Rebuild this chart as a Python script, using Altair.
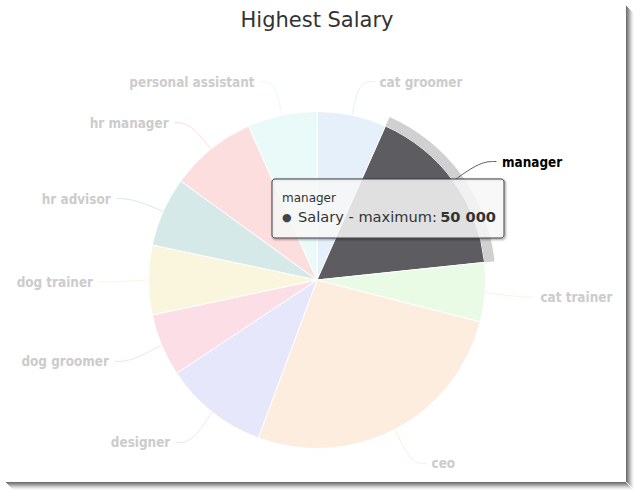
import altair as alt
import pandas as pd

# ---- data ----
jobs = ["cat groomer", "manager", "cat trainer", "ceo", "designer",
        "dog groomer", "dog trainer", "hr advisor", "hr manager", "personal assistant"]
salaries = [20000, 50000, 17000, 80000, 30000, 18000, 20000, 20000, 25000, 20000]
base_colors = ["#7cb5ec", "#434348", "#90ed7d", "#f7a35c", "#8085e9",
               "#f15c80", "#e4d354", "#2b908f", "#f45b5b", "#91e8e1"]
active = "manager"
title_text = "Highest Salary"
series_name = "Salary - maximum"

df = pd.DataFrame({"job": jobs, "salary": salaries, "idx": list(range(len(jobs)))})

# ---- layout constants ----
W, H = 634, 480
TOP = 40
CX, CY = W / 2, H / 2
R = 168.5
LABEL_FONT = "DejaVu Sans Condensed, Liberation Sans Narrow, DejaVu Sans"
TIP_FONT = "DejaVu Sans"

display_colors = ["#5c5c61" if j == active else c for j, c in zip(jobs, base_colors)]
color_enc = alt.Color("job:N", scale=alt.Scale(domain=jobs, range=display_colors), legend=None)
is_active = f"datum.job == '{active}'"

base = (
    alt.Chart(df)
    .transform_window(cum="sum(salary)", sort=[alt.SortField("idx")], frame=[None, 0])
    .transform_joinaggregate(total="sum(salary)")
    .transform_calculate(
        t1="2*PI*(datum.cum - datum.salary)/datum.total",
        t2="2*PI*datum.cum/datum.total",
    )
    .transform_calculate(tm="(datum.t1 + datum.t2)/2")
)

pie = base.mark_arc(radius=R, stroke="white", strokeWidth=1).encode(
    theta=alt.Theta("t1:Q", scale=None),
    theta2="t2:Q",
    color=color_enc,
    fillOpacity=alt.condition(is_active, alt.value(1.0), alt.value(0.2)),
)

halo = base.transform_filter(is_active).mark_arc(
    radius=R + 10, radius2=R, color="#434348", opacity=0.25
).encode(theta=alt.Theta("t1:Q", scale=None), theta2="t2:Q")

connectors = (
    base.transform_calculate(k="[0, 1, 2]")
    .transform_flatten(["k"])
    .transform_calculate(
        side="datum.tm < PI ? 1 : -1",
        rr="datum.k == 0 ? 169 : 202",
    )
    .transform_calculate(
        px=f"{CX} + datum.rr*sin(datum.tm) + (datum.k == 2 ? datum.side*16 : 0)",
        py=f"{CY} - datum.rr*cos(datum.tm) + (datum.k == 0 ? 0 : 2 - 3*cos(datum.tm))",
    )
    .mark_line(strokeWidth=1, interpolate="basis")
    .encode(
        x=alt.X("px:Q", scale=None, axis=None),
        y=alt.Y("py:Q", scale=None, axis=None),
        detail="job:N",
        order="k:Q",
        color=alt.Color("job:N", scale=alt.Scale(domain=jobs, range=base_colors), legend=None),
        opacity=alt.condition(is_active, alt.value(1.0), alt.value(0.2)),
    )
)

def labels(side_expr, align, dx):
    return base.transform_filter(side_expr).mark_text(
        font=LABEL_FONT, fontSize=13.4, fontWeight="bold", align=align,
        baseline="middle", dx=dx, dy=3,
    ).encode(
        theta=alt.Theta("tm:Q", scale=None),
        radius=alt.value(204),
        text="job:N",
        color=alt.condition(is_active, alt.value("#000000"), alt.value("#cccccc")),
    )

labels_right = labels("datum.tm < PI", "left", 20)
labels_left = labels("datum.tm >= PI", "right", -20)

# ---- tooltip ----
tip = base.transform_filter(is_active)
TX1, TX2, TY1, TY2 = 272, 504, 179 - TOP, 238 - TOP
tip_shadows = [
    tip.mark_rect(fill=None, stroke="black", strokeOpacity=op, strokeWidth=sw, cornerRadius=3).encode(
        x=alt.value(TX1 + 1), x2=alt.value(TX2 + 1), y=alt.value(TY1 + 1), y2=alt.value(TY2 + 1))
    for op, sw in [(0.05, 5), (0.1, 3), (0.15, 1)]
]
tip_box = tip.mark_rect(fill="#f7f7f7", fillOpacity=0.85, stroke="#434348", strokeWidth=1,
                        cornerRadius=3).encode(
    x=alt.value(TX1), x2=alt.value(TX2), y=alt.value(TY1), y2=alt.value(TY2))
tip_head = tip.mark_text(font=TIP_FONT, fontSize=12, color="#333333", align="left",
                         baseline="alphabetic").encode(
    x=alt.value(282), y=alt.value(202 - TOP), text="job:N")
tip_dot = tip.mark_text(font=TIP_FONT, fontSize=11, color="#434348", align="left",
                        baseline="alphabetic", text="\u25CF").encode(
    x=alt.value(282), y=alt.value(221 - TOP))
tip_line = tip.transform_calculate(lbl=f"'{series_name}:'").mark_text(
    font=TIP_FONT, fontSize=14.6, color="#333333", align="left", baseline="alphabetic"
).encode(x=alt.value(298), y=alt.value(222 - TOP), text="lbl:N")
tip_val = tip.transform_calculate(v="replace(format(datum.salary, ','), ',', ' ')").mark_text(
    font=TIP_FONT, fontSize=14.6, fontWeight="bold", color="#333333", align="right",
    baseline="alphabetic"
).encode(x=alt.value(496), y=alt.value(222 - TOP), text="v:N")

# ---- title ----
one = alt.Chart(pd.DataFrame({"a": [0]}))
title = one.mark_text(text=title_text, font="DejaVu Sans", fontSize=21, color="#333333",
                      align="center", baseline="alphabetic").encode(
    x=alt.value(CX), y=alt.value(27 - TOP))

# ---- frame shadow ----
frame = []
for i, op in enumerate([0.7, 0.6, 0.5, 0.38, 0.27, 0.17, 0.09, 0.04]):
    frame.append(one.mark_rule(color="#333333", opacity=op, strokeWidth=1).encode(
        x=alt.value(626.5 + i), y=alt.value(6 - TOP + i), y2=alt.value(482 - TOP + i)))
    frame.append(one.mark_rule(color="#333333", opacity=op, strokeWidth=1).encode(
        y=alt.value(482.5 - TOP + i), x=alt.value(6 + i), x2=alt.value(626 + i)))

chart = alt.layer(
    pie, halo, connectors, labels_right, labels_left,
    *tip_shadows, tip_box, tip_head, tip_dot, tip_line, tip_val, title, *frame
).properties(
    width=W, height=H,
    padding={"left": 0, "top": TOP, "right": 0, "bottom": 0},
    autosize=alt.AutoSizeParams(type="none"),
    background="white",
).configure_view(stroke=None)

chart.save("out.html", embed_options={"renderer": "svg", "actions": False})
